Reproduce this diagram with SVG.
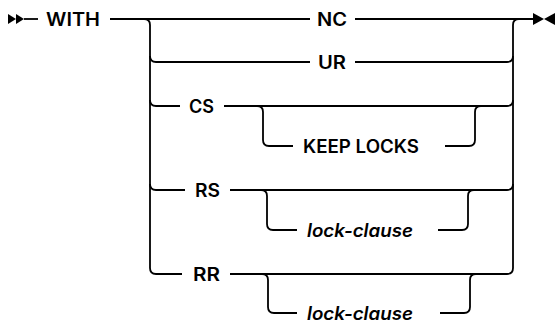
<svg xmlns="http://www.w3.org/2000/svg" width="556" height="322" viewBox="0 0 556 322">
<style>
.t{font-family:Inter,"Liberation Sans",sans-serif;font-weight:600;font-size:18px;fill:#000}
.i{font-style:italic}
.c{fill:none;stroke:#000;stroke-width:1.8}
.m{fill:#000}
</style>
<rect width="556" height="322" fill="#fff"/>
<g id="connectors">
<path class="c" d="M24,19 H38"/>
<path class="c" d="M110,19 H310"/>
<path class="c" d="M355,19 H534"/>
<path class="c" d="M144,19 Q150,19 150,25 V268 Q150,274 156,274 H182"/>
<path class="c" d="M513,268 V25 Q513,19 519,19"/>
<path class="c" d="M150,56 Q150,62 156,62 H310"/>
<path class="c" d="M355,62 H507 Q513,62 513,56"/>
<path class="c" d="M150,100 Q150,106 156,106 H180"/>
<path class="c" d="M224,106 H507 Q513,106 513,100"/>
<path class="c" d="M257,106 Q263,106 263,112 V140 Q263,146 269,146 H293"/>
<path class="c" d="M445,146 H469 Q475,146 475,140 V112 Q475,106 481,106"/>
<path class="c" d="M150,184 Q150,190 156,190 H185"/>
<path class="c" d="M230,190 H507 Q513,190 513,184"/>
<path class="c" d="M261,190 Q267,190 267,196 V224 Q267,230 273,230 H297"/>
<path class="c" d="M438,230 H462 Q468,230 468,224 V196 Q468,190 474,190"/>
<path class="c" d="M230,274 H507 Q513,274 513,268"/>
<path class="c" d="M262,274 Q268,274 268,280 V307 Q268,313 274,313 H297"/>
<path class="c" d="M440,313 H464 Q470,313 470,307 V280 Q470,274 476,274"/>
</g>
<g id="start"><polygon class="m" points="8,14 16,19 8,24"/><polygon class="m" points="16,14 24,19 16,24"/></g>
<g id="end"><polygon class="m" points="533,13 544,19 533,25"/><polygon class="m" points="555,13 544,19 555,25"/></g>
<g id="with"><text class="t" x="46" y="25.5" textLength="54" lengthAdjust="spacingAndGlyphs">WITH</text></g>
<g id="nc"><text class="t" x="317" y="25.5" textLength="30" lengthAdjust="spacingAndGlyphs">NC</text></g>
<g id="ur"><text class="t" x="318" y="68.5" textLength="28" lengthAdjust="spacingAndGlyphs">UR</text></g>
<g id="cs"><text class="t" x="189" y="112.5" textLength="25" lengthAdjust="spacingAndGlyphs">CS</text></g>
<g id="keeplocks"><text class="t" x="303" y="152.5" textLength="116" lengthAdjust="spacingAndGlyphs">KEEP LOCKS</text></g>
<g id="rs"><text class="t" x="195" y="196.5" textLength="25" lengthAdjust="spacingAndGlyphs">RS</text></g>
<g id="lockclause1"><text class="t i" x="307" y="236.5" textLength="106" lengthAdjust="spacingAndGlyphs">lock-clause</text></g>
<g id="rr"><text class="t" x="193" y="280.5" textLength="27" lengthAdjust="spacingAndGlyphs">RR</text></g>
<g id="lockclause2"><text class="t i" x="307" y="319.5" textLength="106" lengthAdjust="spacingAndGlyphs">lock-clause</text></g>
</svg>
